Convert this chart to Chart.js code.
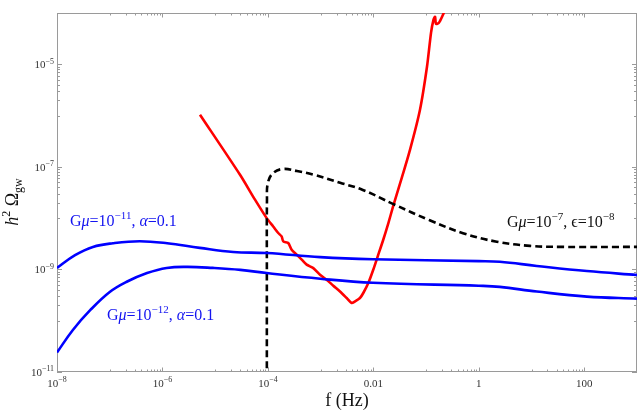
<!DOCTYPE html>
<html>
<head>
<meta charset="utf-8">
<script src="https://cdn.jsdelivr.net/npm/chart.js@4"></script>
<style>
  html, body { margin: 0; padding: 0; background: #fff; }
  canvas { display: block; }
</style>
</head>
<body>
<canvas id="chart" width="641" height="413"></canvas>
<script>
// Gmu = 1e-11, alpha = 0.1
const upperF = [1e-8, 2.2e-8, 4.8e-8, 1.15e-7, 3.7e-7, 1.23e-6, 5.1e-6, 2.2e-5, 9.5e-5, 9.8e-4, 9.8e-3, 1, 2.5, 12.6, 112, 1000];
const upperOmega = [1.07e-9, 1.9e-9, 2.75e-9, 3.24e-9, 3.55e-9, 3.24e-9, 2.63e-9, 2.19e-9, 2.09e-9, 1.74e-9, 1.58e-9, 1.45e-9, 1.41e-9, 1.17e-9, 9.3e-10, 7.8e-10];

// Gmu = 1e-12, alpha = 0.1
const lowerF = [1e-8, 2e-8, 4.3e-8, 1.0e-7, 2.1e-7, 5.1e-7, 1.2e-6, 3e-6, 9e-6, 3e-5, 9.5e-5, 9.8e-4, 9.8e-3, 1, 2.5, 12.6, 112, 1000];
const lowerOmega = [2.4e-11, 6.6e-11, 1.62e-10, 3.63e-10, 5.75e-10, 8.5e-10, 1.07e-9, 1.12e-9, 1.07e-9, 9.8e-10, 8.5e-10, 6.6e-10, 5.5e-10, 4.8e-10, 4.57e-10, 3.7e-10, 2.95e-10, 2.7e-10];

// Gmu = 1e-7, eps = 1e-8 (dashed)
const dashF = [9.55e-5, 9.55e-5, 9.6e-5, 1.0e-4, 1.26e-4, 1.95e-4, 3.55e-4, 7.08e-4, 2.34e-3, 6.31e-3, 2.34e-2, 0.117, 0.501, 2.19, 9.33, 39.8, 1000];
const dashOmega = [1e-12, 1e-9, 2.3e-8, 4.9e-8, 7.6e-8, 9.1e-8, 8.3e-8, 7.1e-8, 4.9e-8, 3.55e-8, 1.9e-8, 9.1e-9, 5.1e-9, 3.47e-9, 2.88e-9, 2.75e-9, 2.75e-9];

// sensitivity curve (red)
const sensF = [5.15e-6, 2.96e-5, 5.69e-5, 9.48e-5, 1.26e-4, 1.57e-4, 1.82e-4, 1.96e-4, 2.43e-4, 2.82e-4, 3.52e-4, 4.38e-4, 5.43e-4, 7.26e-4, 9.72e-4,
  1.30e-3, 1.74e-3, 2.33e-3, 3.12e-3, 3.88e-3, 4.48e-3, 5.57e-3, 6.44e-3, 8.02e-3, 9.95e-3, 1.24e-2, 1.54e-2, 1.92e-2, 2.36e-2,
  3.20e-2, 4.95e-2, 7.66e-2, 0.104, 0.124, 0.138, 0.148, 0.154, 0.175, 0.209, 0.228];
const sensOmega = [1.04e-6, 7.01e-8, 2.29e-8, 1.00e-8, 6.89e-9, 5.13e-9, 4.40e-9, 3.52e-9, 3.27e-9, 2.42e-9, 1.94e-9, 1.55e-9, 1.24e-9, 1.06e-9, 7.89e-10,
  6.30e-10, 4.81e-10, 3.72e-10, 2.77e-10, 2.21e-10, 2.38e-10, 2.77e-10, 3.47e-10, 5.43e-10, 9.86e-10, 1.94e-9, 3.79e-9, 7.94e-9, 1.67e-8,
  4.69e-8, 2.15e-7, 1.30e-6, 8.93e-6, 4.11e-5, 7.36e-5, 8.43e-5, 6.15e-5, 6.44e-5, 9.23e-5, 1.15e-4];

const xTickValues = [1e-8, 1e-6, 1e-4, 1e-2, 1, 100];
const xTickLabels = ["10^-8", "10^-6", "10^-4", "0.01", "1", "100"];
const yTickValues = [1e-11, 1e-9, 1e-7, 1e-5];
const yTickLabels = ["10^-11", "10^-9", "10^-7", "10^-5"];

const SERIF = "'Liberation Serif', 'DejaVu Serif', serif";

const pts = (xs, ys) => xs.map((x, i) => ({ x, y: ys[i] }));

function partWidth(ctx, p){
  ctx.font = `${p.style || ""} ${p.size}px ${SERIF}`;
  return ctx.measureText(p.t).width;
}

function drawRich(ctx, parts, x, y, align){
  let w = 0;
  for(const p of parts) w += partWidth(ctx, p);
  let cx = align === "center" ? x - w / 2 : align === "right" ? x - w : x;
  for(const p of parts){
    const pw = partWidth(ctx, p);
    ctx.fillText(p.t, cx, y + (p.dy || 0));
    cx += pw;
  }
}

function tickParts(label, size){
  const [base, sup] = label.split("^");
  const parts = [{ t: base, size }];
  if(sup) parts.push({ t: sup.replace("-", "\u2212"), size: size * 0.72, dy: -size * 0.42 });
  return parts;
}

const framePlugin = {
  id: "frame",
  beforeDatasetsDraw(chart){
    const { ctx, chartArea: a, scales: { x, y } } = chart;
    ctx.save();
    ctx.strokeStyle = "#9a9a9a";
    ctx.lineWidth = 1;
    ctx.strokeRect(a.left + 0.5, a.top + 0.5, a.right - a.left - 1, a.bottom - a.top - 1);

    ctx.beginPath();
    for(const v of xTickValues){
      const px = Math.round(x.getPixelForValue(v)) + 0.5;
      ctx.moveTo(px, a.bottom); ctx.lineTo(px, a.bottom - 4.5);
      ctx.moveTo(px, a.top); ctx.lineTo(px, a.top + 4.5);
      for(let k = 1; k <= 9; k++){
        const m = v / 10 * k;
        if(m <= 1e-8) continue;
        const mx = Math.round(x.getPixelForValue(m)) + 0.5;
        ctx.moveTo(mx, a.bottom); ctx.lineTo(mx, a.bottom - 2.5);
        ctx.moveTo(mx, a.top); ctx.lineTo(mx, a.top + 2.5);
      }
    }
    for(const v of yTickValues){
      const py = Math.round(y.getPixelForValue(v)) + 0.5;
      ctx.moveTo(a.left, py); ctx.lineTo(a.left + 5, py);
      ctx.moveTo(a.right, py); ctx.lineTo(a.right - 5, py);
      for(let k = 1; k <= 9; k++){
        const m = v / 10 * k;
        if(m <= 1e-11) continue;
        const my = Math.round(y.getPixelForValue(m)) + 0.5;
        ctx.moveTo(a.left, my); ctx.lineTo(a.left + 3, my);
        ctx.moveTo(a.right, my); ctx.lineTo(a.right - 3, my);
      }
    }
    ctx.stroke();

    // tick labels
    ctx.fillStyle = "#333";
    ctx.textBaseline = "alphabetic";
    xTickLabels.forEach((lab, i) => {
      drawRich(ctx, tickParts(lab, 11), x.getPixelForValue(xTickValues[i]), a.bottom + 14.5, "center");
    });
    yTickLabels.forEach((lab, i) => {
      drawRich(ctx, tickParts(lab, 11), a.left - 3, y.getPixelForValue(yTickValues[i]) + 4, "right");
    });
    ctx.restore();
  },
  afterDraw(chart){
    const { ctx, chartArea: a } = chart;
    ctx.save();
    ctx.textBaseline = "alphabetic";

    // axis titles
    ctx.fillStyle = "#111";
    drawRich(ctx, [{ t: "f (Hz)", size: 18 }], (a.left + a.right) / 2, a.bottom + 34, "center");
    ctx.translate(18, 202);
    ctx.rotate(-Math.PI / 2);
    drawRich(ctx, [
      { t: "h", size: 18, style: "italic" },
      { t: "2", size: 12, dy: -8 },
      { t: " \u03A9", size: 18 },
      { t: "gw", size: 12, dy: 4 }
    ], 0, 0, "center");
    ctx.restore();

    ctx.save();
    ctx.textBaseline = "alphabetic";
    ctx.fillStyle = "#1414f0";
    drawRich(ctx, [
      { t: "G", size: 16 }, { t: "\u03BC", size: 16, style: "italic" }, { t: "=10", size: 16 },
      { t: "\u221211", size: 11, dy: -7 }, { t: ", ", size: 16 },
      { t: "\u03B1", size: 16, style: "italic" }, { t: "=0.1", size: 16 }
    ], 70, 226, "left");
    drawRich(ctx, [
      { t: "G", size: 16 }, { t: "\u03BC", size: 16, style: "italic" }, { t: "=10", size: 16 },
      { t: "\u221212", size: 11, dy: -7 }, { t: ", ", size: 16 },
      { t: "\u03B1", size: 16, style: "italic" }, { t: "=0.1", size: 16 }
    ], 107, 320, "left");
    ctx.fillStyle = "#111";
    drawRich(ctx, [
      { t: "G", size: 16 }, { t: "\u03BC", size: 16, style: "italic" }, { t: "=10", size: 16 },
      { t: "\u22127", size: 11, dy: -7 }, { t: ", ", size: 16 },
      { t: "\u03F5", size: 16 }, { t: "=10", size: 16 },
      { t: "\u22128", size: 11, dy: -7 }
    ], 507, 227, "left");
    ctx.restore();
  }
};

new Chart(document.getElementById("chart"), {
  type: "scatter",
  data: {
    datasets: [
      { data: pts(upperF, upperOmega), showLine: true, borderColor: "#0000ff", borderWidth: 2.6, tension: 0.4, pointRadius: 0 },
      { data: pts(lowerF, lowerOmega), showLine: true, borderColor: "#0000ff", borderWidth: 2.6, tension: 0.4, pointRadius: 0 },
      { data: pts(dashF, dashOmega), showLine: true, borderColor: "#000", borderWidth: 2.6, borderDash: [7, 4], tension: 0.4, pointRadius: 0 },
      { data: pts(sensF, sensOmega), showLine: true, borderColor: "#ff0000", borderWidth: 2.6, tension: 0.25, pointRadius: 0 }
    ]
  },
  options: {
    responsive: false,
    animation: false,
    devicePixelRatio: 1,
    layout: { padding: { left: 57, right: 4, top: 13, bottom: 41 } },
    plugins: { legend: { display: false }, tooltip: { enabled: false } },
    scales: {
      x: { type: "logarithmic", min: 1e-8, max: 1000, display: false },
      y: { type: "logarithmic", min: 1e-11, max: 1e-4, display: false }
    }
  },
  plugins: [framePlugin]
});
</script>
</body>
</html>
